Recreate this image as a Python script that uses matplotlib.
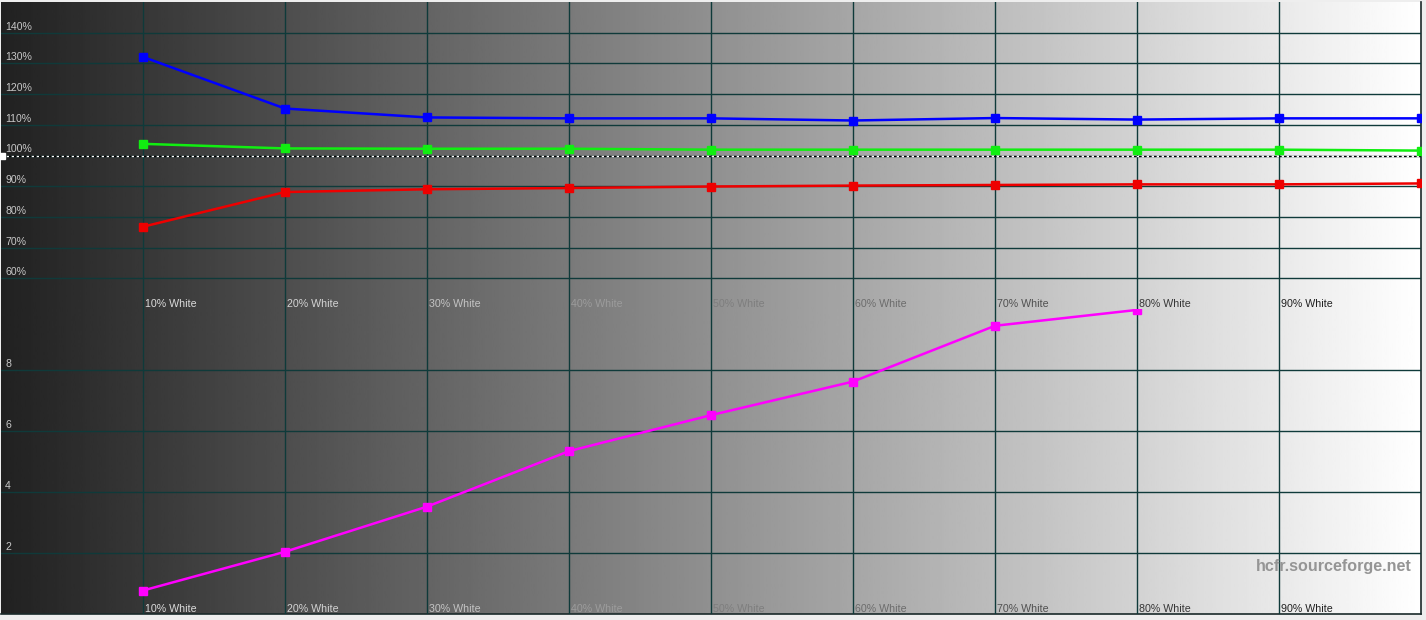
import matplotlib.pyplot as plt
import numpy as np
from matplotlib.transforms import offset_copy

levels = [10, 20, 30, 40, 50, 60, 70, 80, 90, 100]
red = [76.8, 88.1, 89.0, 89.4, 89.9, 90.2, 90.4, 90.6, 90.6, 90.9]
green = [103.8, 102.3, 102.2, 102.2, 101.9, 101.9, 101.9, 101.9, 101.9, 101.6]
blue = [132.1, 115.3, 112.4, 112.1, 112.1, 111.4, 112.2, 111.7, 112.1, 112.1]

de_levels = [10, 20, 30, 40, 50, 60, 70, 80]
delta_e = [0.77, 2.04, 3.52, 5.34, 6.52, 7.62, 9.45, 9.97]

pct_ticks = [60, 70, 80, 90, 100, 110, 120, 130, 140]
pct_labels = ['60%', '70%', '80%', '90%', '100%', '110%', '120%', '130%', '140%']
de_ticks = [2, 4, 6, 8]
de_labels = ['2', '4', '6', '8']
x_labels = ['10% White', '20% White', '30% White', '40% White', '50% White',
            '60% White', '70% White', '80% White', '90% White']
label_greys = ['#dcdcdc', '#d4d4d4', '#c4c4c4', '#9c9c9c', '#7e7e7e',
               '#6c6c6c', '#505050', '#363636', '#202020']

plt.rcParams['font.family'] = ['Liberation Sans', 'DejaVu Sans']

W, H = 1426, 620
grid_c = '#0f3a3a'


def box(x0, y0, x1, y1):
    return [x0 / W, 1 - y1 / H, (x1 - x0) / W, (y1 - y0) / H]


fig = plt.figure(figsize=(W / 100, H / 100), dpi=100, facecolor='#eeeeee')

# gradient background behind both panels
bg = fig.add_axes(box(1, 2, 1421, 614))
grad = np.linspace(0.13, 1.0, 600)[None, :]
bg.imshow(grad, cmap='gray', vmin=0, vmax=1, aspect='auto', extent=(0, 1, 0, 1))
bg.set_xticks([])
bg.set_yticks([])
for s in ['top', 'left']:
    bg.spines[s].set_visible(False)
for s in ['right', 'bottom']:
    bg.spines[s].set_color('#1a2a2a')
    bg.spines[s].set_linewidth(1.2)

top = fig.add_axes(box(1, 2, 1421, 309))
bot = fig.add_axes(box(1, 309, 1421, 614))

for ax, ymin, ymax, ticks, tlabels in [(top, 50, 150, pct_ticks, pct_labels),
                                        (bot, 0, 10, de_ticks, de_labels)]:
    ax.set_xlim(0, 100)
    ax.set_ylim(ymin, ymax)
    ax.set_facecolor('none')
    ax.set_xticks([])
    ax.set_yticks([])
    for s in ax.spines.values():
        s.set_visible(False)
    for v in ticks:
        ax.axhline(v, color=grid_c, lw=1.0, zorder=1)
    for lv in levels[:-1]:
        ax.axvline(lv, color=grid_c, lw=1.0, zorder=1)
    ytr = offset_copy(ax.get_yaxis_transform(), fig=fig, x=4, y=3, units='dots')
    for v, t in zip(ticks, tlabels):
        ax.text(0, v, t, transform=ytr, fontsize=7.6, color='#c8c8c8',
                ha='left', va='baseline')
    xtr = offset_copy(ax.get_xaxis_transform(), fig=fig, x=2, y=2, units='dots')
    for lv, t, c in zip(levels, x_labels, label_greys):
        ax.text(lv, 0, t, transform=xtr, fontsize=7.7, color=c,
                ha='left', va='baseline')

# 100% reference line (white/black dashes)
top.axhline(100, color='white', lw=0.9, ls=(0, (2, 2)), zorder=2)
top.axhline(100, color='black', lw=0.9, ls=(2, (2, 2)), zorder=2)
top.plot([0.1], [100], marker='s', ms=4, color='white', clip_on=False, zorder=5)

mk = dict(marker='s', ms=6, lw=1.8, zorder=4)
top.plot(levels, blue, color='#0000ff', **mk)
top.plot(levels, green, color='#11ee11', **mk)
top.plot(levels, red, color='#ee0000', **mk)

bot.plot(de_levels, delta_e, color='#ff00ff', **mk)

fig.text(1412 / W, 1 - 567 / H, 'hcfr.sourceforge.net', fontsize=11.6,
         fontweight='bold', color='#959595', ha='right', va='center')

fig.savefig('out.png', dpi=100, facecolor=fig.get_facecolor())
